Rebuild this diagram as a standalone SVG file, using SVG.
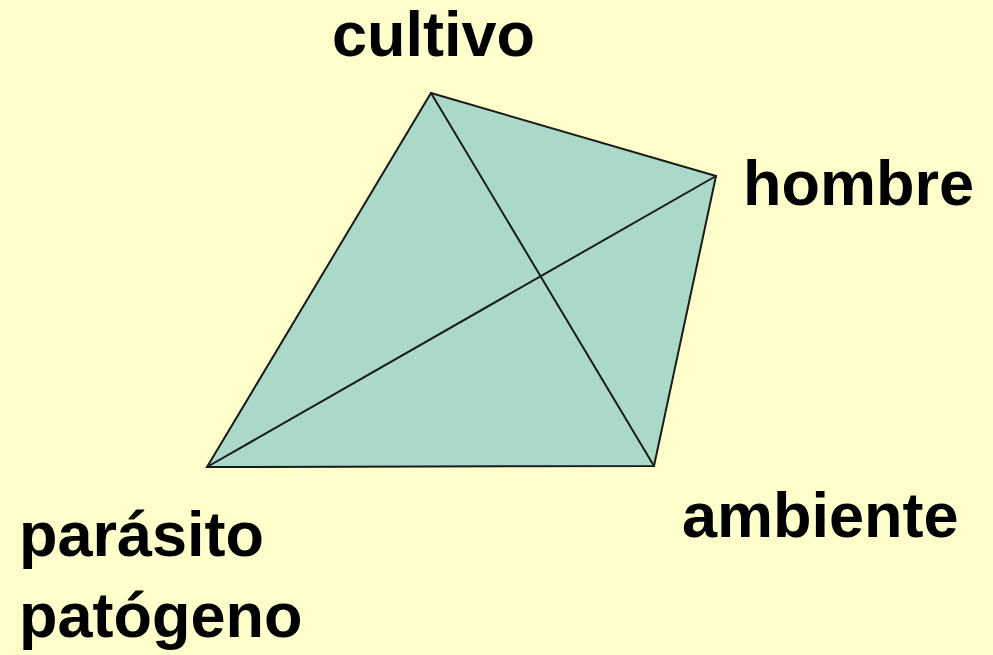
<svg xmlns="http://www.w3.org/2000/svg" width="993" height="655" viewBox="0 0 993 655">
<style>
.lbl{font-family:"Liberation Sans",Arial,sans-serif;font-weight:bold;font-size:63px;fill:#000}
.edge{stroke:#1a1a1a;stroke-width:2;fill:none;stroke-linecap:round}
</style>
<rect width="993" height="655" fill="#FFFFCC"/>
<g id="shape">
<polygon points="431,93 716,176 654,466 207,467" fill="#AADAC7"/>
</g>
<g id="connectors">
<path class="edge" d="M431,93 L716,176 L654,466 L207,467 Z"/>
<line class="edge" x1="431" y1="93" x2="654" y2="466"/>
<line class="edge" x1="716" y1="176" x2="207" y2="467"/>
</g>
<g id="cultivo"><text class="lbl" x="332" y="56">cultivo</text></g>
<g id="hombre"><text class="lbl" x="743" y="205">hombre</text></g>
<g id="ambiente"><text class="lbl" x="682" y="537">ambiente</text></g>
<g id="parasito"><text class="lbl" x="19" y="556">parásito</text><text class="lbl" x="19" y="637">patógeno</text></g>
</svg>
